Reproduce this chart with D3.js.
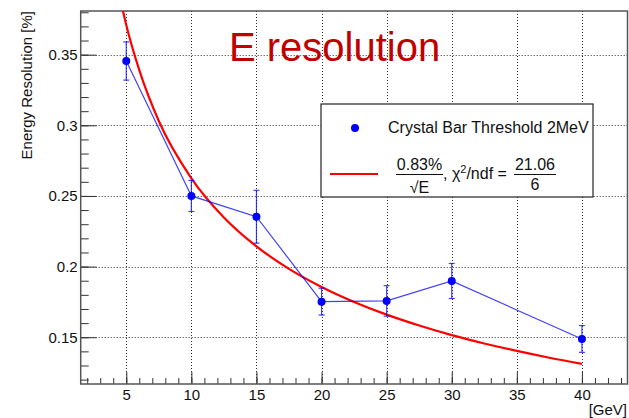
<!DOCTYPE html>
<html>
<head>
<meta charset="utf-8">
<script src="https://cdn.jsdelivr.net/npm/d3@7"></script>
<style>
  body { margin: 0; background: #fff; }
  text { font-family: "Liberation Sans", Arial, sans-serif; }
</style>
</head>
<body>
<div id="chart"></div>
<script>
// Measured points (beam energy in GeV, resolution, error)
const energies = [5, 10, 15, 20, 25, 30, 40];
const resolution = [0.3455, 0.250, 0.2353, 0.1752, 0.1757, 0.1898, 0.1488];
const resError = [0.0135, 0.011, 0.0187, 0.0095, 0.0108, 0.0124, 0.0095];

// Fit curve
const fitE = [4.5, 5, 6, 7.5, 10, 12.5, 15, 17.5, 20, 22.5, 25, 27.5, 30, 32.5, 35, 37.5, 40];
const fitRes = [0.391, 0.371, 0.339, 0.303, 0.2625, 0.2348, 0.2143, 0.1984, 0.1856, 0.175, 0.166, 0.1583, 0.1515, 0.1456, 0.1403, 0.1355, 0.1312];

const xTicks = [5, 10, 15, 20, 25, 30, 35, 40];
const xMinor = d3.range(2, 44);
const yTicks = [0.15, 0.2, 0.25, 0.3, 0.35];
const yMinor = d3.range(12, 39).map((d) => d / 100);

const width = 629, height = 418;
const frame = { left: 80.7, right: 627.5, top: 11, bottom: 384 };

const x = d3.scaleLinear().domain([1.5, 43.5]).range([frame.left, frame.right]);
const y = d3.scaleLinear().domain([0.1169, 0.3809]).range([frame.bottom, frame.top]);

const svg = d3.select('#chart').append('svg').attr('width', width).attr('height', height);
svg.append('rect').attr('width', width).attr('height', height).attr('fill', '#fff');

svg.append('clipPath').attr('id', 'clip')
	.append('rect')
	.attr('x', frame.left).attr('y', frame.top)
	.attr('width', frame.right - frame.left).attr('height', frame.bottom - frame.top);

// Grid
const grid = svg.append('g').attr('stroke', '#333').attr('stroke-width', 1).attr('stroke-dasharray', '1,2');
grid.selectAll('.gx').data(xTicks).enter().append('line')
	.attr('x1', (d) => Math.round(x(d)) + 0.5).attr('x2', (d) => Math.round(x(d)) + 0.5)
	.attr('y1', frame.top).attr('y2', frame.bottom);
grid.selectAll('.gy').data(yTicks).enter().append('line')
	.attr('y1', (d) => Math.round(y(d)) + 0.5).attr('y2', (d) => Math.round(y(d)) + 0.5)
	.attr('x1', frame.left).attr('x2', frame.right);

// Axes
const styleAxis = (g) => {
	g.select('.domain').remove();
	g.selectAll('line').attr('stroke', '#333');
	g.selectAll('text').attr('font-size', 15).attr('fill', '#111').attr('font-family', '"Liberation Sans", Arial, sans-serif');
};

svg.append('g').attr('transform', `translate(0,${frame.bottom})`)
	.call(d3.axisBottom(x).tickValues(xMinor).tickSize(-6).tickFormat(''))
	.call(styleAxis);
svg.append('g').attr('transform', `translate(0,${frame.bottom})`)
	.call(d3.axisBottom(x).tickValues(xTicks).tickSize(-12).tickPadding(5).tickFormat(d3.format('d')))
	.call(styleAxis);

svg.append('g').attr('transform', `translate(${frame.left},0)`)
	.call(d3.axisLeft(y).tickValues(yMinor).tickSize(-8).tickFormat(''))
	.call(styleAxis);
svg.append('g').attr('transform', `translate(${frame.left},0)`)
	.call(d3.axisLeft(y).tickValues(yTicks).tickSize(-16).tickPadding(3).tickFormat((d) => String(+d.toFixed(2))))
	.call(styleAxis);

// Frame
svg.append('rect')
	.attr('x', frame.left).attr('y', frame.top)
	.attr('width', frame.right - frame.left).attr('height', frame.bottom - frame.top)
	.attr('fill', 'none').attr('stroke', '#555').attr('stroke-width', 1.5);

// Axis titles
svg.append('text')
	.attr('transform', `translate(32,${frame.top}) rotate(-90)`)
	.attr('text-anchor', 'end').attr('font-size', 15).attr('fill', '#111')
	.text('Energy Resolution [%]');
svg.append('text')
	.attr('x', 627).attr('y', 415).attr('text-anchor', 'end').attr('font-size', 15).attr('fill', '#111')
	.text('[GeV]');

// Fit curve
const fitData = fitE.map((e, i) => ({ e, r: fitRes[i] }));
const fitLine = d3.line().x((d) => x(d.e)).y((d) => y(d.r)).curve(d3.curveMonotoneX);
svg.append('path').datum(fitData)
	.attr('clip-path', 'url(#clip)')
	.attr('d', fitLine)
	.attr('fill', 'none').attr('stroke', '#ff0000').attr('stroke-width', 2.2);

// Data graph
const points = energies.map((e, i) => ({ e, r: resolution[i], err: resError[i] }));
const dataLine = d3.line().x((d) => x(d.e)).y((d) => y(d.r));
svg.append('path').datum(points)
	.attr('d', dataLine)
	.attr('fill', 'none').attr('stroke', '#0000ff').attr('stroke-opacity', 0.75).attr('stroke-width', 1.2);

const bars = svg.append('g').attr('stroke', '#0000ff').attr('stroke-opacity', 0.75).attr('stroke-width', 1.2);
bars.selectAll('.eb').data(points).enter().append('line')
	.attr('x1', (d) => x(d.e)).attr('x2', (d) => x(d.e))
	.attr('y1', (d) => y(d.r - d.err)).attr('y2', (d) => y(d.r + d.err));
bars.selectAll('.capTop').data(points).enter().append('line')
	.attr('x1', (d) => x(d.e) - 3).attr('x2', (d) => x(d.e) + 3)
	.attr('y1', (d) => y(d.r + d.err)).attr('y2', (d) => y(d.r + d.err));
bars.selectAll('.capBot').data(points).enter().append('line')
	.attr('x1', (d) => x(d.e) - 3).attr('x2', (d) => x(d.e) + 3)
	.attr('y1', (d) => y(d.r - d.err)).attr('y2', (d) => y(d.r - d.err));

svg.selectAll('.pt').data(points).enter().append('circle')
	.attr('cx', (d) => x(d.e)).attr('cy', (d) => y(d.r))
	.attr('r', 4).attr('fill', '#0000ff');

// Title
svg.append('text')
	.attr('x', 229).attr('y', 61)
	.attr('font-size', 40).attr('fill', '#c00000')
	.text('E resolution');

// Legend
const legend = svg.append('g');
legend.append('rect')
	.attr('x', 321).attr('y', 104).attr('width', 272).attr('height', 93)
	.attr('fill', '#fff').attr('stroke', '#222').attr('stroke-width', 1.2);
legend.append('circle').attr('cx', 355).attr('cy', 128).attr('r', 4).attr('fill', '#0000ff');
legend.append('text').attr('x', 388).attr('y', 133).attr('font-size', 16).attr('fill', '#111')
	.text('Crystal Bar Threshold 2MeV');
legend.append('line').attr('x1', 330).attr('x2', 378).attr('y1', 174).attr('y2', 174)
	.attr('stroke', '#ff0000').attr('stroke-width', 2.2);

const formula = legend.append('g').attr('fill', '#111').attr('font-size', 16);
formula.append('text').attr('x', 419.5).attr('y', 170).attr('text-anchor', 'middle').text('0.83%');
formula.append('line').attr('x1', 396).attr('x2', 443).attr('y1', 174.5).attr('y2', 174.5)
	.attr('stroke', '#111').attr('stroke-width', 1.2);
formula.append('text').attr('x', 419.5).attr('y', 193).attr('text-anchor', 'middle').text('√E');
const mid = formula.append('text').attr('x', 443).attr('y', 179);
mid.append('tspan').text(', χ');
mid.append('tspan').attr('font-size', 11).attr('dy', -6).text('2');
mid.append('tspan').attr('dy', 6).text('/ndf = ');
formula.append('text').attr('x', 535).attr('y', 170).attr('text-anchor', 'middle').text('21.06');
formula.append('line').attr('x1', 514).attr('x2', 556).attr('y1', 174.5).attr('y2', 174.5)
	.attr('stroke', '#111').attr('stroke-width', 1.2);
formula.append('text').attr('x', 535).attr('y', 190).attr('text-anchor', 'middle').text('6');
</script>
</body>
</html>
